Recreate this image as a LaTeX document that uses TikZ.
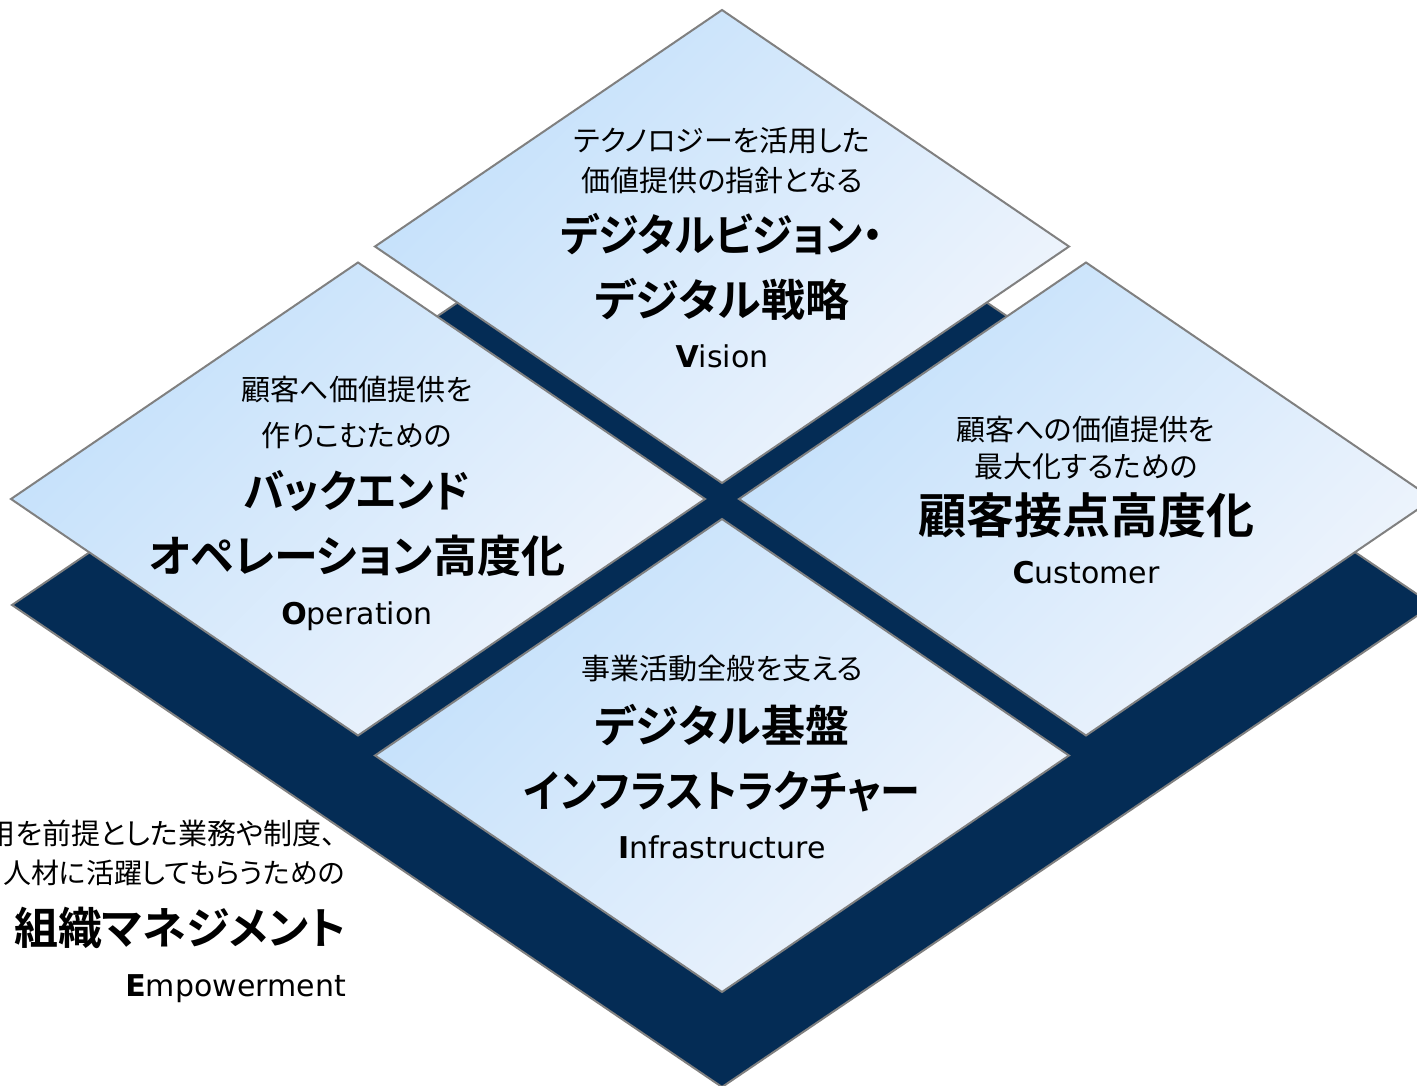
\documentclass[tikz,border=0pt]{standalone}
\usepackage{fontspec}
\usepackage{graphicx}
\usepackage{xcolor}
\usetikzlibrary{positioning}
\newfontfamily\jpfont{Noto Sans CJK JP}[BoldFont={Noto Sans CJK JP Bold},RawFeature=+palt]
\newfontfamily\enfont{DejaVu Sans}
\definecolor{navy}{HTML}{042C55}
\definecolor{edgegray}{HTML}{808080}
\definecolor{tileblue}{HTML}{C3E0FB}
\definecolor{tilewhite}{HTML}{F0F5FC}
\newcommand{\narrow}[2][0.92]{\scalebox{#1}[1]{#2}}

\begin{document}
\begin{tikzpicture}[x=1pt,y=-1pt,
    tile/.style={draw=edgegray,line width=2pt,top color=tileblue,bottom color=tilewhite,shading angle=45},
    lead/.style={font=\jpfont\fontsize{29}{34}\selectfont,inner sep=0pt,text height=25.5pt,text depth=3.5pt},
    head/.style={font=\jpfont\bfseries\fontsize{44}{52}\selectfont,inner sep=0pt,text height=38.7pt,text depth=5.3pt},
    tag/.style={font=\enfont\fontsize{30}{36}\selectfont,inner sep=0pt,text height=21.9pt,text depth=0pt}]
    \useasboundingbox(0,0)rectangle(1417,1086);
    \fill[white](0,0)rectangle(1417,1086);
    % base slab
    \draw[fill=navy,draw=edgegray,line width=2pt](12,605)--(722,123)--(1433,605)--(722,1087)--cycle;
    % four tiles
    \foreach \cx/\cy in {722/246.5,358/499,1086/499,722/755.5}
      \draw[tile](\cx,\cy-236.5)--(\cx+347,\cy)--(\cx,\cy+236.5)--(\cx-347,\cy)--cycle;

    \node[lead](vis1)at(722,141){テクノロジーを活用した};
    \node[lead](vis2)at(722,181){価値提供の指針となる};
    \node[head](vis3)at(722,235){\narrow[0.93]{デジタルビジョン・}};
    \node[head](vis4)at(722,300){デジタル戦略};
    \node[tag](vis5)at(722,357){\textbf{V}ision};

    \node[lead](ope1)at(357,389){顧客へ価値提供を};
    \node[lead](ope2)at(357,435){作りこむための};
    \node[head](ope3)at(357,491){\narrow[0.94]{バックエンド}};
    \node[head](ope4)at(357,556){オペレーション高度化};
    \node[tag](ope5)at(357,614){\textbf{O}peration};

    \node[lead](cus1)at(1086,429){顧客への価値提供を};
    \node[lead](cus2)at(1086,466){最大化するための};
    \node[head,font=\jpfont\bfseries\fontsize{48}{56}\selectfont](cus3)at(1086,517){顧客接点高度化};
    \node[tag](cus4)at(1086,573){\textbf{C}ustomer};

    \node[lead](inf1)at(722,668){事業活動全般を支える};
    \node[head](inf2)at(722,726){デジタル基盤};
    \node[head](inf3)at(722,791){\narrow[0.91]{インフラストラクチャー}};
    \node[tag](inf4)at(722,848){\textbf{I}nfrastructure};

    \node[lead,anchor=east](emp1)at(336,833){用を前提とした業務や制度、};
    \node[lead,anchor=east,font=\jpfont\fontsize{28}{33}\selectfont](emp2)at(345,872){人材に活躍してもらうための};
    \node[head,anchor=east](emp3)at(346,928){組織マネジメント};
    \node[tag,anchor=east](emp4)at(346,986){\textbf{E}mpowerment};
  \end{tikzpicture}
\end{document}
